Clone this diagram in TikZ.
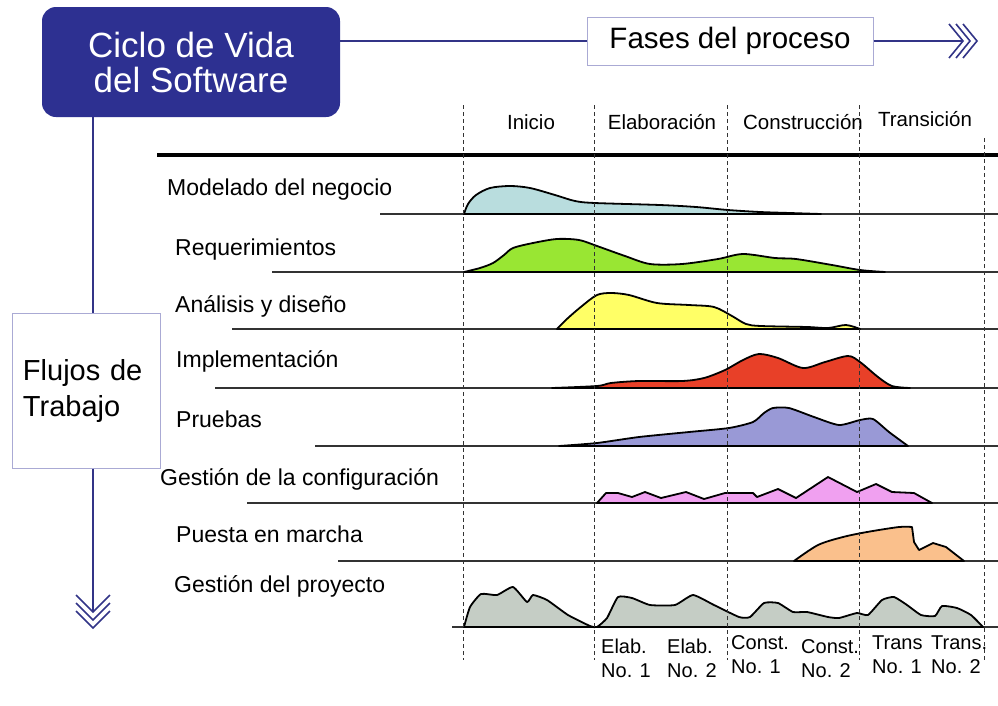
\documentclass[tikz,border=0pt]{standalone}
\usepackage{fontspec}
\setmainfont{Liberation Sans}
\definecolor{boxblue}{RGB}{45,48,145}
\definecolor{lineblue}{RGB}{50,52,135}
\definecolor{lightborder}{RGB}{170,170,212}
\definecolor{cA}{RGB}{185,221,222}
\definecolor{cB}{RGB}{153,230,51}
\definecolor{cC}{RGB}{255,255,102}
\definecolor{cD}{RGB}{232,64,40}
\definecolor{cE}{RGB}{153,153,214}
\definecolor{cF}{RGB}{240,160,240}
\definecolor{cG}{RGB}{250,192,140}
\definecolor{cH}{RGB}{197,205,197}
\begin{document}
\begin{tikzpicture}[x=1pt,y=-1pt,
  conn/.style={draw=lineblue, line width=1.6pt},
  chev/.style={draw=lineblue, line width=1.6pt, line join=miter},
  rowlbl/.style={anchor=base west, inner sep=0pt, font=\fontsize{23}{26}\selectfont},
  phaselbl/.style={anchor=base, inner sep=0pt, font=\fontsize{20.5}{24}\selectfont},
  sublbl/.style={anchor=base west, inner sep=0pt, align=left, font=\fontsize{20}{24}\selectfont},
  baseln/.style={draw=black!80, line width=1.5pt},
  hump/.style={draw=black, line width=1.8pt, line join=round},
  gridln/.style={draw=black!80, line width=1pt, dash pattern=on 4pt off 3pt},
]
\useasboundingbox (0,0) rectangle (998,705);
\fill[white] (0,0) rectangle (998,705);

% header boxes
\node[fill=boxblue, rounded corners=14pt, minimum width=298pt, minimum height=110pt,
      text=white, align=center, inner sep=0pt, font=\fontsize{35}{35}\selectfont]
      (ciclo) at (191,62) {Ciclo de Vida\\del Software};
\node[draw=lightborder, line width=1pt, minimum width=286pt, minimum height=48pt,
      inner sep=0pt, font=\fontsize{29.5}{30}\selectfont] (fases) at (730,41) {Fases del proceso};
\node[draw=lightborder, line width=1pt, minimum width=148pt, minimum height=155pt,
      text width=126pt, inner xsep=11pt, align=left, font=\fontsize{29}{36}\selectfont]
      (flujos) at (86,390.5) {Flujos de\\Trabajo};

% connectors
\coordinate (rend) at (963,41);
\coordinate (vx) at (93,0);
\coordinate (dend) at (93,612);
\draw[conn] (ciclo.east |- fases.west) -- (fases.west);
\draw[conn] (fases.east) -- (rend);
\foreach \d in {0,7,14}
  \draw[chev, shift={(rend)}] (\d-14,-17) -- (\d,0) -- (\d-14,17);
\draw[conn] (ciclo.south -| vx) -- (flujos.north -| vx);
\draw[conn] (flujos.south -| vx) -- (dend);
\foreach \d in {0,8,16}
  \draw[chev, shift={(dend)}] (-17,\d-17) -- (0,\d) -- (17,\d-17);

% phase labels
\node[phaselbl] (pi) at (531,129) {Inicio};
\node[phaselbl] (pe) at (662,129) {Elaboración};
\node[phaselbl] (pc) at (803,129) {Construcción};
\node[phaselbl] (pt) at (925,126) {Transición};

% top thick line
\draw[line width=3.5pt] (157,155) -- (998,155);

% row labels
\node[rowlbl] (r1) at (167,195) {Modelado del negocio};
\node[rowlbl] (r2) at (175,255) {Requerimientos};
\node[rowlbl] (r3) at (175,312) {Análisis y diseño};
\node[rowlbl] (r4) at (176,367) {Implementación};
\node[rowlbl] (r5) at (176,427) {Pruebas};
\node[rowlbl] (r6) at (160,485) {Gestión de la configuración};
\node[rowlbl] (r7) at (176,542) {Puesta en marcha};
\node[rowlbl] (r8) at (174,592) {Gestión del proyecto};

% baselines
\draw[baseln] (380,214) -- (998,214);
\draw[baseln] (272,272) -- (998,272);
\draw[baseln] (232,329) -- (998,329);
\draw[baseln] (215,388) -- (998,388);
\draw[baseln] (315,446) -- (998,446);
\draw[baseln] (247,503) -- (998,503);
\draw[baseln] (338,561) -- (998,561);
\draw[baseln] (452,627) -- (998,627);

% humps
\filldraw[hump, fill=cA] plot[smooth, tension=0.5] coordinates {(464,214) (468,204) (476,195) (490,188) (510,186) (530,188) (555,195) (575,201) (595,203) (660,205) (696,207) (728,210) (760,212) (790,213) (821,214)} -- cycle;
\filldraw[hump, fill=cB] plot[smooth, tension=0.5] coordinates {(464,272) (480,268) (493,263) (504,255) (513,248) (533,243) (557,239) (579,240) (597,246) (625,256) (650,264) (682,264) (718,259) (743,254) (775,258) (796,259) (832,265) (860,270) (885,272)} -- cycle;
\filldraw[hump, fill=cC] plot[smooth, tension=0.5] coordinates {(557,329) (568,318) (582,306) (597,295) (611,293) (629,295) (657,303) (689,305) (714,307) (732,316) (746,324) (761,326) (807,327) (828,328) (846,325) (860,329)} -- cycle;
\filldraw[hump, fill=cD] plot[smooth, tension=0.5] coordinates {(552,388) (597,386) (611,383) (639,381) (682,381) (704,378) (725,370) (743,360) (759,354) (778,358) (803,368) (825,362) (848,356) (860,362) (878,377) (892,386) (910,388)} -- cycle;
\filldraw[hump, fill=cE] plot[smooth, tension=0.4] coordinates {(559,446) (597,443) (639,437) (689,432) (729,428) (753,422) (764,413) (773,408) (789,408) (814,417) (839,425) (860,420) (873,419) (889,432) (908,446)} -- cycle;
\filldraw[hump, fill=cF] (597,503) -- (606,493) -- (618,493) -- (632,497) -- (645,492) -- (661,498) -- (686,492) -- (704,499) -- (725,493) -- (753,493) -- (757,497) -- (778,489) -- (796,498) -- (828,477) -- (857,492) -- (876,484) -- (892,492) -- (914,493) -- (932,503) -- cycle;
\filldraw[hump, fill=cG] plot[smooth, tension=0.5] coordinates {(794,561) (818,545) (843,537) (867,532) (899,527) (912,527)} -- (914,542) -- (919,550) -- (933,543) -- (946,547) -- (964,561) -- cycle;
\filldraw[hump, fill=cH] plot[smooth, tension=0.3] coordinates {(464,627) (470,607) (481,594) (497,595) (513,587) (527,602) (533,595) (547,600) (568,615) (590,626) (597,627) (607,618) (618,597) (632,598) (650,605) (675,605) (693,595) (714,605) (739,617) (750,617) (764,603) (778,603) (793,612) (807,612) (828,617) (839,618) (857,613) (868,615) (882,600) (894,597) (907,605) (921,615) (935,616) (942,606) (957,608) (971,615) (983,627)} -- cycle;

% dashed phase lines
\draw[gridln] (463,105) -- (463,660);
\draw[gridln] (594,105) -- (594,660);
\draw[gridln] (727,105) -- (727,660);
\draw[gridln] (859,105) -- (859,660);
\draw[gridln] (984,138) -- (984,660);

% iteration labels
\node[sublbl] (i1) at (601,677) {Elab.\\No. 1};
\node[sublbl] (i2) at (667,677) {Elab.\\No. 2};
\node[sublbl] (i3) at (731,673) {Const.\\No. 1};
\node[sublbl] (i4) at (801,677) {Const.\\No. 2};
\node[sublbl] (i5) at (872,673) {Trans\\No. 1};
\node[sublbl] (i6) at (931,673) {Trans.\\No. 2};
\end{tikzpicture}
\end{document}
